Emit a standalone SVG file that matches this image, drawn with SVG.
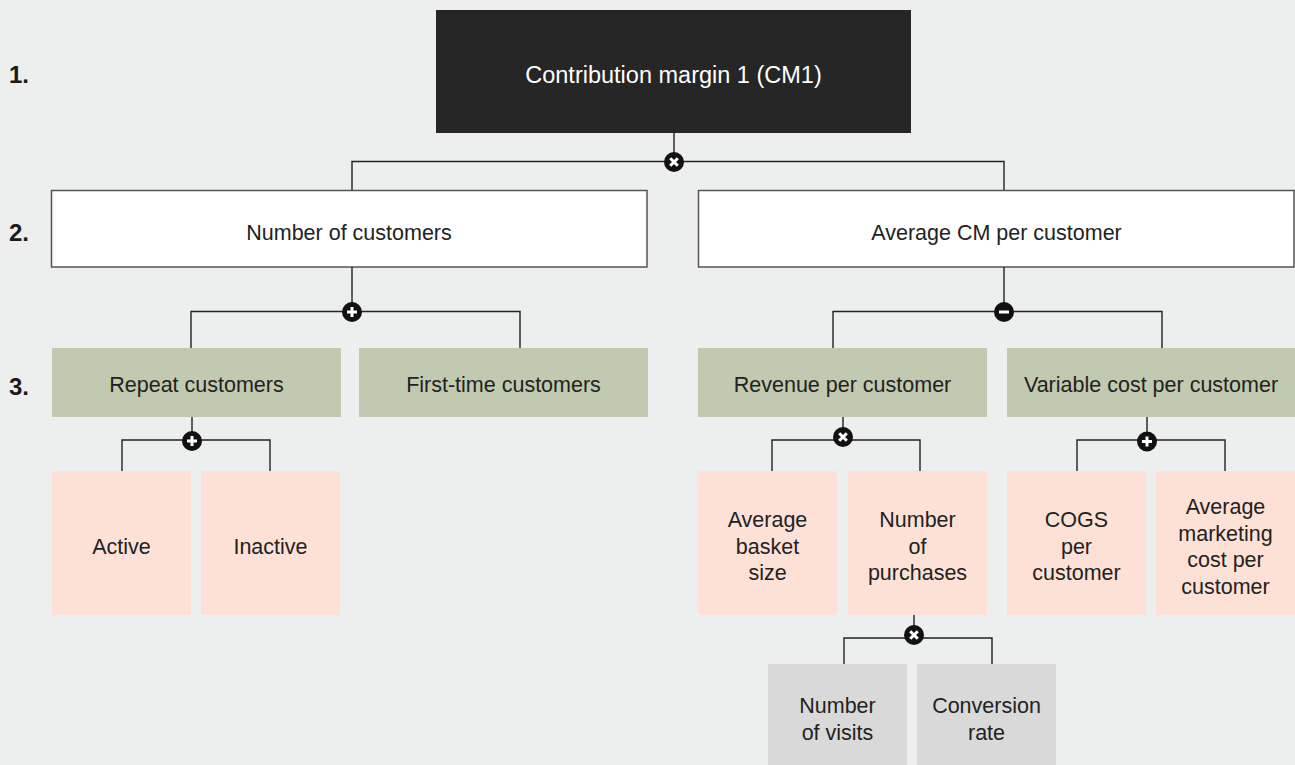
<svg xmlns="http://www.w3.org/2000/svg" width="1295" height="765" viewBox="0 0 1295 765">
<style>
text{font-family:"Liberation Sans",Arial,sans-serif;font-size:21.5px;fill:#222;text-anchor:middle}
.lvl{font-weight:bold;font-size:24px;text-anchor:start;fill:#1a1a1a}
.top{fill:#262626}
.top-t{fill:#fff;font-size:23.5px}
.l2{fill:#fff;stroke:#555;stroke-width:1.5}
.l3{fill:#C1C9B0}
.l4{fill:#FDE1D6}
.l5{fill:#D9D9D9}
.ln{fill:none;stroke:#222;stroke-width:1.4}
.op{fill:#111}
.sym{stroke:#fff;stroke-width:3;stroke-linecap:butt;fill:none}
</style>
<defs>
<g id="opX"><circle class="op" r="10"/><path class="sym" d="M-3.8,-3.8L3.8,3.8M3.8,-3.8L-3.8,3.8"/></g>
<g id="opP"><circle class="op" r="10"/><path class="sym" d="M-5,0H5M0,-5V5"/></g>
<g id="opM"><circle class="op" r="10"/><path class="sym" d="M-5,0H5"/></g>
</defs>
<rect width="1295" height="765" fill="#ECEFEE"/>

<g id="levels">
<text class="lvl" x="9" y="83">1.</text>
<text class="lvl" x="9" y="241">2.</text>
<text class="lvl" x="9" y="395">3.</text>
</g>

<g id="n-cm1"><rect class="top" x="436" y="10" width="475" height="123"/><text class="top-t" x="673.5" y="82.5">Contribution margin 1 (CM1)</text></g>

<g id="n-numcust"><rect class="l2" x="51.5" y="190.5" width="595.5" height="76.5"/><text x="349" y="240">Number of customers</text></g>
<g id="n-avgcm"><rect class="l2" x="698.5" y="190.5" width="595.5" height="76.5"/><text x="996.5" y="240">Average CM per customer</text></g>

<g id="n-repeat"><rect class="l3" x="52" y="348" width="289" height="69"/><text x="196.5" y="392">Repeat customers</text></g>
<g id="n-first"><rect class="l3" x="359" y="348" width="289" height="69"/><text x="503.5" y="392">First-time customers</text></g>
<g id="n-rev"><rect class="l3" x="698" y="348" width="289" height="69"/><text x="842.5" y="392">Revenue per customer</text></g>
<g id="n-var"><rect class="l3" x="1007" y="348" width="288" height="69"/><text x="1151" y="392">Variable cost per customer</text></g>

<g id="n-active"><rect class="l4" x="52" y="471" width="139" height="144"/><text x="121.5" y="554">Active</text></g>
<g id="n-inactive"><rect class="l4" x="201" y="471" width="139" height="144"/><text x="270.5" y="554">Inactive</text></g>
<g id="n-basket"><rect class="l4" x="698" y="471" width="139" height="144"/><text x="767.5" y="527">Average</text><text x="767.5" y="553.5">basket</text><text x="767.5" y="580">size</text></g>
<g id="n-purch"><rect class="l4" x="848" y="471" width="139" height="144"/><text x="917.5" y="527">Number</text><text x="917.5" y="553.5">of</text><text x="917.5" y="580">purchases</text></g>
<g id="n-cogs"><rect class="l4" x="1007" y="471" width="139" height="144"/><text x="1076.5" y="527">COGS</text><text x="1076.5" y="553.5">per</text><text x="1076.5" y="580">customer</text></g>
<g id="n-mkt"><rect class="l4" x="1156" y="471" width="139" height="144"/><text x="1225.5" y="514">Average</text><text x="1225.5" y="540.5">marketing</text><text x="1225.5" y="567">cost per</text><text x="1225.5" y="593.5">customer</text></g>

<g id="n-visits"><rect class="l5" x="768" y="664" width="139" height="101"/><text x="837.5" y="713">Number</text><text x="837.5" y="739.5">of visits</text></g>
<g id="n-conv"><rect class="l5" x="917" y="664" width="139" height="101"/><text x="986.5" y="713">Conversion</text><text x="986.5" y="739.5">rate</text></g>

<g id="connectors">
<path class="ln" d="M674,125V162M352,190V161.5H1004V190"/>
<path class="ln" d="M352,267V312M191,348V311.5H520V348"/>
<path class="ln" d="M1004,267V312M833,348V311.5H1162V348"/>
<path class="ln" d="M192,417V441M122,471V440H270V471"/>
<path class="ln" d="M843,417V437M772,471V440H920V471"/>
<path class="ln" d="M1147,417V441M1077,471V440H1225V471"/>
<path class="ln" d="M914,615V635M844,664V638H992V664"/>
<use href="#opX" x="674" y="162"/>
<use href="#opP" x="352" y="312"/>
<use href="#opM" x="1004" y="312"/>
<use href="#opP" x="192" y="441"/>
<use href="#opX" x="843" y="437"/>
<use href="#opP" x="1147" y="441.5"/>
<use href="#opX" x="914" y="635"/>
</g>
</svg>
